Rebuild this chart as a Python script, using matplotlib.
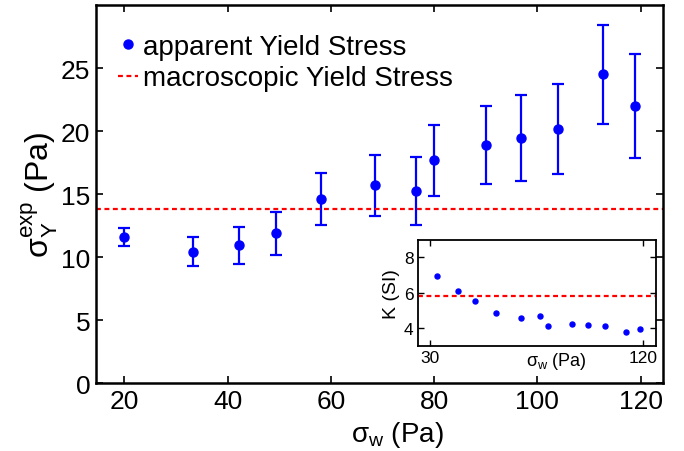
import numpy as np
import matplotlib
matplotlib.use('Agg')
import matplotlib.pyplot as plt
from matplotlib.lines import Line2D

plt.rcParams['font.family'] = ['Liberation Sans', 'DejaVu Sans']
plt.rcParams['mathtext.fontset'] = 'custom'
plt.rcParams['mathtext.rm'] = 'Liberation Sans'
plt.rcParams['mathtext.it'] = 'Liberation Sans'
plt.rcParams['mathtext.bf'] = 'Liberation Sans:bold'
plt.rcParams['mathtext.default'] = 'regular'

# data
sigma_w = [20, 33.2, 42.2, 49.3, 58.1, 68.6, 76.4, 80.0, 90.0, 96.8, 104.1, 112.7, 118.9]
yield_app = [11.6, 10.45, 10.95, 11.9, 14.6, 15.7, 15.25, 17.67, 18.93, 19.46, 20.17, 24.5, 22.0]
yield_err = [0.7, 1.16, 1.48, 1.7, 2.05, 2.4, 2.67, 2.8, 3.1, 3.38, 3.6, 3.92, 4.14]
yield_macro = 13.8

K_w = sigma_w[1:]
K_vals = [6.96, 6.11, 5.54, 4.85, 4.57, 4.66, 4.09, 4.22, 4.17, 4.11, 3.75, 3.92]
K_macro = 5.81

blue = '#0000ff'
red = '#ff0000'
dash = (0, (2.2, 1.6))

fig = plt.figure(figsize=(6.84, 4.52), dpi=100)
ax = fig.add_axes([0.1404, 0.1498, 0.8285, 0.8369])

ax.errorbar(sigma_w, yield_app, yerr=yield_err, fmt='o', color=blue, ms=6.5,
            elinewidth=1.6, capsize=4, capthick=1.6)
ax.axhline(yield_macro, color=red, ls=dash, lw=1.6)

ax.set_xlim(14.5, 124.3)
ax.set_ylim(0, 30)
ax.set_xticks([20, 40, 60, 80, 100, 120])
ax.set_yticks([0, 5, 10, 15, 20, 25])
ax.tick_params(direction='in', length=5, width=1.2, labelsize=19, top=True, right=True, pad=4)
for s in ax.spines.values():
    s.set_linewidth(1.8)
ax.set_xlabel(r'$\sigma_w$ (Pa)', fontsize=20, va='center')
ax.xaxis.set_label_coords(0.531, -0.135)
ax.set_ylabel(r'$\sigma_Y^{exp}$ (Pa)', fontsize=23, labelpad=1)

handles = [Line2D([], [], ls='none', marker='o', ms=6.5, color=blue),
           Line2D([], [], ls=dash, lw=1.6, color=red)]
ax.legend(handles, ['apparent Yield Stress', 'macroscopic Yield Stress'],
          loc='upper left', bbox_to_anchor=(0.016, 0.957), frameon=False,
          fontsize=20, handlelength=0.75, handletextpad=0.16, borderaxespad=0,
          borderpad=0.45, labelspacing=0.2, numpoints=1)

# inset
ins = fig.add_axes([0.6107, 0.2330, 0.3483, 0.2345])
ins.plot(K_w, K_vals, 'o', color=blue, ms=3.6)
ins.axhline(K_macro, color=red, ls=dash, lw=1.6)
ins.set_xlim(25, 125.5)
ins.set_ylim(3, 9)
ins.set_xticks([30, 120])
ins.set_yticks([4, 6, 8])
ins.tick_params(direction='in', length=4, width=1.0, labelsize=12.5, top=True, right=True, pad=3)
for s in ins.spines.values():
    s.set_linewidth(1.3)
ins.set_ylabel('K (SI)', fontsize=14, labelpad=3)
ins.text(0.583, -0.04, r'$\sigma_w$ (Pa)', transform=ins.transAxes, fontsize=13,
         ha='center', va='top')

fig.savefig('out.png', dpi=100)
